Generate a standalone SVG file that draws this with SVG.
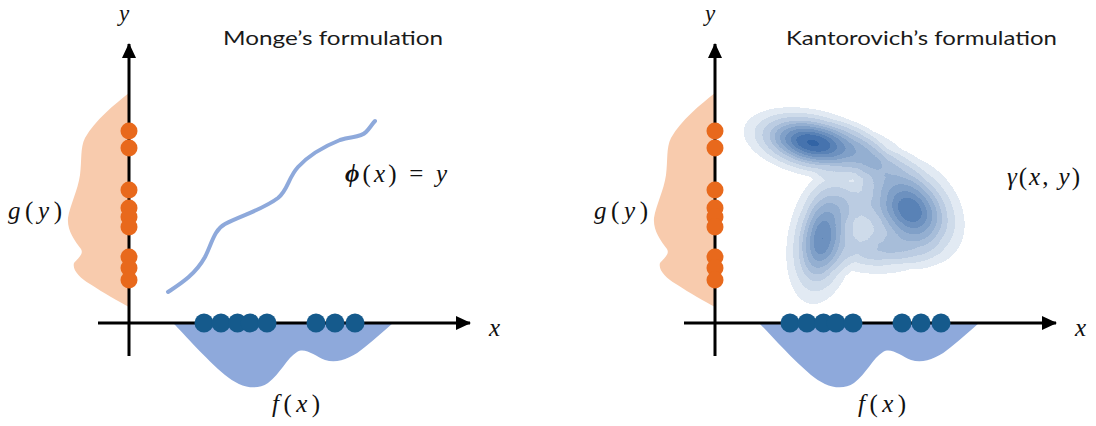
<svg xmlns="http://www.w3.org/2000/svg" xmlns:xlink="http://www.w3.org/1999/xlink" width="1096" height="426" viewBox="0 0 1096 426">
  <defs>
    <style>
      .axis { stroke: #000; stroke-width: 3; fill: none; }
      .gfill { fill: #F8CBAD; }
      .ffill { fill: #8EA9DB; }
      .odot { fill: #E8691C; }
      .bdot { fill: #155A8C; }
      .map { fill: none; stroke: #8EA9DB; stroke-width: 4; stroke-linecap: round; stroke-linejoin: round; }
      .title { font-family: Lato, "Open Sans", "Liberation Sans", sans-serif; font-size: 20px; fill: #1a1a1a; }
      .math { font-family: "Liberation Serif", "DejaVu Serif", serif; font-style: italic; font-size: 25px; fill: #111; }
      .mathup { font-style: normal; }
      .ylab { font-size: 23px; }
    </style>
    <marker id="arr" markerUnits="userSpaceOnUse" markerWidth="16" markerHeight="14" refX="14" refY="7" orient="auto">
      <path d="M0,0 L15,7 L0,14 Z" fill="#000"/>
    </marker>
    <radialGradient id="gauss">
      <stop offset="0" stop-color="#000" stop-opacity="1"/>
      <stop offset="0.2" stop-color="#000" stop-opacity="0.88"/>
      <stop offset="0.4" stop-color="#000" stop-opacity="0.61"/>
      <stop offset="0.6" stop-color="#000" stop-opacity="0.32"/>
      <stop offset="0.8" stop-color="#000" stop-opacity="0.135"/>
      <stop offset="1" stop-color="#000" stop-opacity="0"/>
    </radialGradient>
    <filter id="kde" filterUnits="userSpaceOnUse" x="700" y="80" width="320" height="260" color-interpolation-filters="sRGB">
      <feComponentTransfer in="SourceGraphic" result="q">
        <feFuncA type="discrete" tableValues="0 0.1 0.1 0.2 0.2 0.3 0.3 0.4 0.4 0.5 0.5 0.6 0.6 0.7 0.7 0.8 0.8 0.9 0.9 1"/>
      </feComponentTransfer>
      <feColorMatrix in="q" type="matrix" values="0 0 0 -0.767 0.963  0 0 0 -0.584 0.976  0 0 0 -0.34 0.987  0 0 0 30 0"/>
    </filter>
    <g id="gshape">
      <path class="gfill" d="M129,93 C115,104 95,120 85,138 C80,148 82,160 80,175 C78,190 70,205 68,218 C67,230 74,240 81,249 C84,254 78,258 74,263 C72,270 80,278 90,284 C105,294 118,301 129,307 Z"/>
    </g>
    <g id="fshape">
      <path class="ffill" d="M173,323 C185,335 205,358 225,375 C238,386 255,392 268,383 C280,374 287,358 297,352 C305,347 315,356 325,360 C338,364 352,358 365,347 C376,338 385,330 393,323 Z"/>
    </g>
    <g id="odots">
      <circle class="odot" cx="129" cy="131" r="8.5"/>
      <circle class="odot" cx="129" cy="148" r="8.5"/>
      <circle class="odot" cx="129" cy="190" r="8.5"/>
      <circle class="odot" cx="129" cy="208" r="8.5"/>
      <circle class="odot" cx="129" cy="217" r="8.5"/>
      <circle class="odot" cx="129" cy="227" r="8.5"/>
      <circle class="odot" cx="129" cy="257" r="8.5"/>
      <circle class="odot" cx="129" cy="268" r="8.5"/>
      <circle class="odot" cx="129" cy="280" r="8.5"/>
    </g>
    <g id="bdots">
      <circle class="bdot" cx="204" cy="323" r="9.5"/>
      <circle class="bdot" cx="221" cy="323" r="9.5"/>
      <circle class="bdot" cx="237.5" cy="323" r="9.5"/>
      <circle class="bdot" cx="250" cy="323" r="9.5"/>
      <circle class="bdot" cx="267" cy="323" r="9.5"/>
      <circle class="bdot" cx="316" cy="323" r="9.5"/>
      <circle class="bdot" cx="335" cy="323" r="9.5"/>
      <circle class="bdot" cx="355" cy="323" r="9.5"/>
    </g>
  </defs>

  <!-- Left panel: Monge -->
  <g id="monge-g">
    <use xlink:href="#gshape"/>
    <text class="math" x="8" y="219" textLength="54" lengthAdjust="spacing">g<tspan class="mathup">(</tspan>y<tspan class="mathup">)</tspan></text>
  </g>
  <g id="monge-f">
    <use xlink:href="#fshape"/>
    <text class="math" x="272" y="412" textLength="48" lengthAdjust="spacing">f<tspan class="mathup">(</tspan>x<tspan class="mathup">)</tspan></text>
  </g>
  <g id="monge-axes">
    <line class="axis" x1="129" y1="356" x2="129" y2="44" marker-end="url(#arr)"/>
    <line class="axis" x1="98" y1="323" x2="470" y2="323" marker-end="url(#arr)"/>
    <text class="math ylab" x="119" y="21">y</text>
    <text class="math" x="489" y="336">x</text>
  </g>
  <g id="monge-samples">
    <use xlink:href="#odots"/>
    <use xlink:href="#bdots"/>
  </g>
  <g id="monge-title">
    <text class="title" x="223" y="45" textLength="220" lengthAdjust="spacingAndGlyphs">Monge’s formulation</text>
  </g>
  <g id="connectors">
    <path id="monge-map" class="map" d="M168,292 C180,284 195,275 205,257 C212,243 214,230 225,224 C240,216 262,210 278,198 C288,190 288,178 298,167 C310,154 325,146 340,140 C352,136 360,138 366,132 C370,128 372,124 375,121"/>
  </g>
  <g id="monge-label">
    <text class="math" x="345" y="182" textLength="102" lengthAdjust="spacing"><tspan font-weight="bold">ϕ</tspan><tspan class="mathup">(</tspan>x<tspan class="mathup">) = </tspan>y</text>
  </g>

  <!-- Right panel: Kantorovich -->
  <g id="kant-g">
    <use xlink:href="#gshape" transform="translate(586,0)"/>
    <text class="math" x="594" y="219" textLength="54" lengthAdjust="spacing">g<tspan class="mathup">(</tspan>y<tspan class="mathup">)</tspan></text>
  </g>
  <g id="kant-f">
    <use xlink:href="#fshape" transform="translate(586,0)"/>
    <text class="math" x="858" y="412" textLength="48" lengthAdjust="spacing">f<tspan class="mathup">(</tspan>x<tspan class="mathup">)</tspan></text>
  </g>
  <g id="kant-axes">
    <line class="axis" x1="715" y1="356" x2="715" y2="44" marker-end="url(#arr)"/>
    <line class="axis" x1="684" y1="323" x2="1056" y2="323" marker-end="url(#arr)"/>
    <text class="math ylab" x="705" y="21">y</text>
    <text class="math" x="1075" y="336">x</text>
  </g>
  <g id="kant-samples">
    <use xlink:href="#odots" transform="translate(586,0)"/>
    <use xlink:href="#bdots" transform="translate(586,0)"/>
  </g>
  <g id="kant-title">
    <text class="title" x="786" y="45" textLength="271" lengthAdjust="spacingAndGlyphs">Kantorovich’s formulation</text>
  </g>
  <g id="kant-plan" filter="url(#kde)">
    <ellipse cx="813" cy="143" rx="76" ry="36" transform="rotate(12 813 143)" fill="url(#gauss)"/>
    <ellipse cx="910" cy="210" rx="68" ry="52" transform="rotate(48 910 210)" fill="url(#gauss)" fill-opacity="0.85"/>
    <ellipse cx="822" cy="238" rx="38" ry="74" transform="rotate(10 822 238)" fill="url(#gauss)" fill-opacity="0.75"/>
    <ellipse cx="872" cy="160" rx="62" ry="32" transform="rotate(30 872 160)" fill="url(#gauss)" fill-opacity="0.4"/>
    <ellipse cx="852" cy="205" rx="50" ry="45" fill="url(#gauss)" fill-opacity="0.25"/>
    <ellipse cx="878" cy="250" rx="68" ry="30" fill="url(#gauss)" fill-opacity="0.35"/>
  </g>
  <g id="kant-label">
    <text class="math" x="1007" y="185" textLength="73" lengthAdjust="spacing">γ<tspan class="mathup">(</tspan>x<tspan class="mathup">, </tspan>y<tspan class="mathup">)</tspan></text>
  </g>
</svg>
